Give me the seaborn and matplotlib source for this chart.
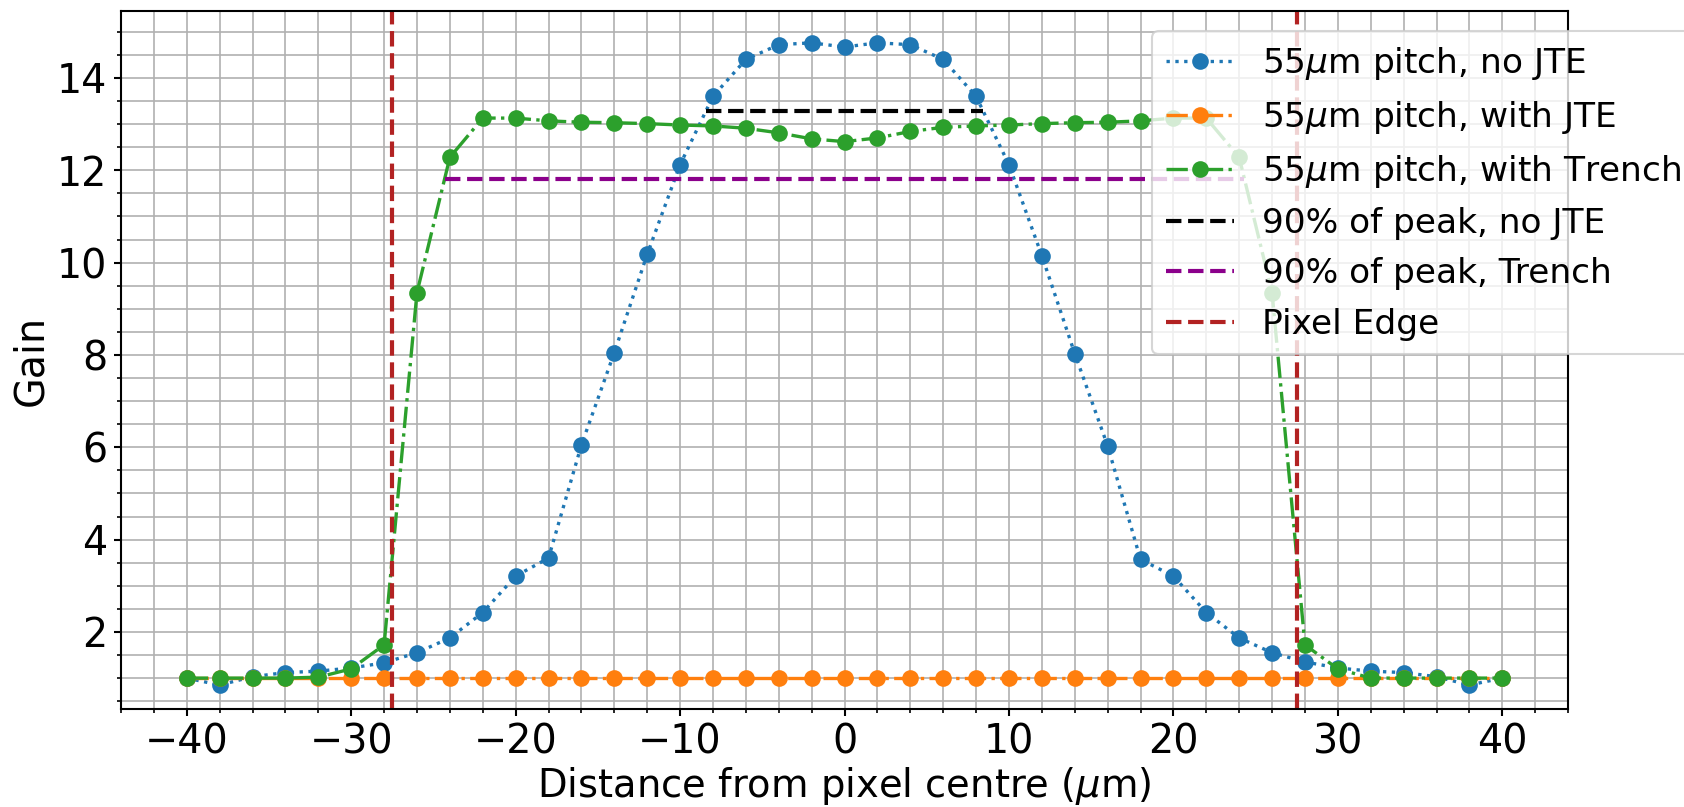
import numpy as np
import matplotlib
matplotlib.use("Agg")
import matplotlib.pyplot as plt
import seaborn as sns
from matplotlib.ticker import AutoMinorLocator

# Beam position across the pixel (um)
positions = list(range(-40, 41, 2))

# Measured gain for each sensor variant
gain_no_jte = [1.00, 0.85, 1.03, 1.12, 1.15, 1.22, 1.33, 1.55, 1.87, 2.42, 3.21,
               3.60, 6.05, 8.05, 10.18, 12.12, 13.60, 14.40, 14.72, 14.76, 14.67,
               14.76, 14.72, 14.40, 13.60, 12.12, 10.15, 8.03, 6.03, 3.57, 3.21,
               2.42, 1.87, 1.55, 1.35, 1.22, 1.15, 1.12, 1.03, 0.85, 1.00]
gain_with_jte = [1.00] * 41
gain_trench = [1.00, 1.00, 1.00, 1.00, 1.02, 1.20, 1.72, 9.35, 12.28, 13.13, 13.13,
               13.07, 13.04, 13.03, 13.01, 12.98, 12.96, 12.91, 12.81, 12.68, 12.62,
               12.70, 12.84, 12.93, 12.96, 12.98, 13.01, 13.03, 13.04, 13.07, 13.13,
               13.13, 12.28, 9.35, 1.72, 1.20, 1.00, 1.00, 1.00, 1.00, 1.00]

pixel_edges = [-27.5, 27.5]
peak_fraction = 0.9

series_labels = ["55$\\mu$m pitch, no JTE", "55$\\mu$m pitch, with JTE",
                 "55$\\mu$m pitch, with Trench", "90% of peak, no JTE",
                 "90% of peak, Trench", "Pixel Edge"]


def plateau_span(x, y, frac):
    """Return (left, right, level) where the curve sits above frac * peak."""
    x = np.asarray(x, float)
    y = np.asarray(y, float)
    level = frac * y.max()
    i = int(np.argmax(y))
    j = i
    while y[j - 1] >= level:
        j -= 1
    left = np.interp(level, [y[j - 1], y[j]], [x[j - 1], x[j]])
    k = i
    while y[k + 1] >= level:
        k += 1
    right = np.interp(level, [y[k + 1], y[k]], [x[k + 1], x[k]])
    return left, right, level


sns.set_theme(style="ticks")
plt.rcParams.update({
    "font.family": ["DejaVu Sans"],
    "font.size": 16,
    "axes.edgecolor": "black",
    "axes.labelcolor": "black",
    "text.color": "black",
    "xtick.color": "black",
    "ytick.color": "black",
    "axes.linewidth": 1.0,
    "mathtext.fontset": "dejavusans",
})

fig = plt.figure(figsize=(1685 / 150, 807 / 150), dpi=150)
ax = fig.add_axes([0.0718, 0.1214, 0.8588, 0.865])

ms = 8
sns.lineplot(x=positions, y=gain_no_jte, ax=ax, color="#1f77b4", linestyle=":",
             linewidth=1.6, marker="o", markersize=ms, markeredgewidth=0,
             label=series_labels[0], errorbar=None)
sns.lineplot(x=positions, y=gain_with_jte, ax=ax, color="#ff7f0e", linestyle="-.",
             linewidth=1.6, marker="o", markersize=ms, markeredgewidth=0,
             label=series_labels[1], errorbar=None)
sns.lineplot(x=positions, y=gain_trench, ax=ax, color="#2ca02c", linestyle="-.",
             linewidth=1.6, marker="o", markersize=ms, markeredgewidth=0,
             label=series_labels[2], errorbar=None)

l0, r0, lvl0 = plateau_span(positions, gain_no_jte, peak_fraction)
l1, r1, lvl1 = plateau_span(positions, gain_trench, peak_fraction)
sns.lineplot(x=[l0, r0], y=[lvl0, lvl0], ax=ax, color="black", linestyle="--",
             linewidth=2.0, label=series_labels[3], errorbar=None)
sns.lineplot(x=[l1, r1], y=[lvl1, lvl1], ax=ax, color="#8b008b", linestyle="--",
             linewidth=2.0, label=series_labels[4], errorbar=None)
for n, xe in enumerate(pixel_edges):
    ax.axvline(xe, color="#b22222", linestyle="--", linewidth=2.0,
               label=series_labels[5] if n == 0 else None)

ax.set_xlim(-44, 44)
ax.set_ylim(0.33, 15.45)
ax.set_xticks([-40, -30, -20, -10, 0, 10, 20, 30, 40])
ax.set_yticks([2, 4, 6, 8, 10, 12, 14])
ax.xaxis.set_minor_locator(AutoMinorLocator(5))
ax.yaxis.set_minor_locator(AutoMinorLocator(4))
ax.grid(which="both", color="#b0b0b0", linewidth=0.8)
ax.set_axisbelow(True)
ax.tick_params(which="major", direction="out", length=3.5, width=1, pad=3,
               labelsize=19)
ax.tick_params(which="minor", direction="out", length=2, width=0.8)
for s in ax.spines.values():
    s.set_visible(True)
    s.set_color("black")

ax.set_xlabel("Distance from pixel centre ($\\mu$m)", fontsize=18.5, labelpad=1)
ax.set_ylabel("Gain", fontsize=19, labelpad=3)

ax.legend(loc="upper left", bbox_to_anchor=(1152 / 1685, 1 - 31 / 807),
          bbox_transform=fig.transFigure, borderaxespad=0, fontsize=16.5,
          framealpha=0.8, fancybox=True, edgecolor="#cccccc")

fig.savefig("out.png", dpi=150)
